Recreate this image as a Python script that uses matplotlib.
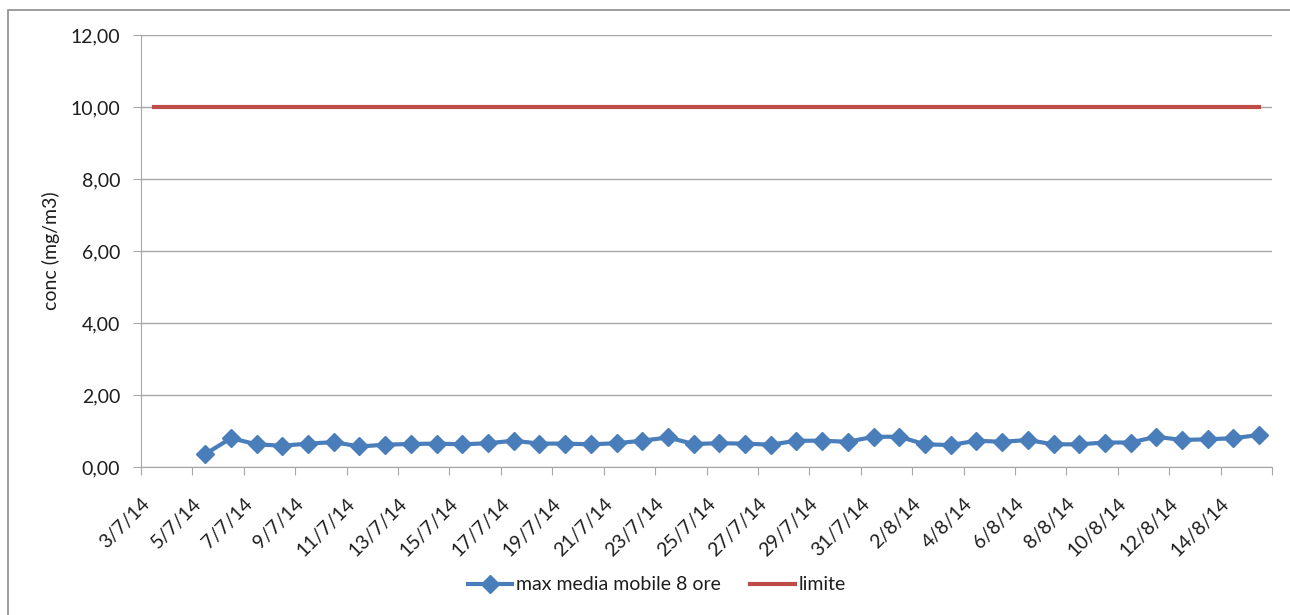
import datetime as dt

import matplotlib
matplotlib.use("Agg")
import matplotlib.pyplot as plt
import matplotlib.transforms as mtransforms
from matplotlib.patches import Rectangle

# daily categories 3/7/14 .. 15/8/14
start = dt.date(2014, 7, 3)
days = [start + dt.timedelta(days=i) for i in range(44)]
day_labels = ["%d/%d/%d" % (d.day, d.month, d.year % 100) for d in days]

# series starts on 5/7/14
media_mobile = [0.36, 0.80, 0.63, 0.59, 0.65, 0.69, 0.57, 0.62, 0.64, 0.65,
                0.63, 0.66, 0.73, 0.65, 0.65, 0.63, 0.66, 0.73, 0.82, 0.64,
                0.66, 0.65, 0.62, 0.73, 0.73, 0.70, 0.84,
                0.84, 0.63, 0.61, 0.73, 0.70, 0.75, 0.63, 0.63, 0.68, 0.68,
                0.84, 0.75, 0.77, 0.80, 0.89]
limite = [10.0] * len(days)
y_ticks = [0, 2, 4, 6, 8, 10, 12]

blue = "#4a7ebb"
red = "#be4b48"
grey = "#a6a6a6"
text_col = "#1e1e1e"

plt.rcParams['font.family'] = ['Lato', 'DejaVu Sans']

fig = plt.figure(figsize=(12.9, 6.15), dpi=100)
ax = fig.add_axes([141 / 1290, 1 - 467 / 615, (1272 - 141) / 1290, (467 - 35) / 615])

# chart area border (only left and top visible in the crop)
fig.patches.append(Rectangle((8 / 1290, -0.1), 1.2, 0.1 + 605 / 615,
                             transform=fig.transFigure, fill=False,
                             edgecolor="#8c8c8c", linewidth=1.2))

x_all = list(range(len(days)))
x_blue = x_all[2:]

ax.plot(x_blue, media_mobile, color=blue, linewidth=3, marker="D",
        markersize=9.5, label="max media mobile 8 ore", zorder=3)
ax.plot(x_all, limite, color=red, linewidth=3, label="limite", zorder=3)

ax.set_xlim(-0.5, len(days) - 0.5)
ax.set_ylim(0, 12)
ax.set_yticks(y_ticks)
ax.set_yticklabels(["%d,00" % v for v in y_ticks])
ax.yaxis.grid(True, color=grey, linewidth=1)
ax.set_axisbelow(True)

tick_pos = [i - 0.5 for i in range(0, len(days) + 1, 2)]
ax.set_xticks(tick_pos)
ax.set_xticklabels([day_labels[i] if i < len(days) else "" for i in range(0, len(days) + 1, 2)],
                   rotation=45, ha="right", va="top", rotation_mode="anchor")
shift = mtransforms.ScaledTranslation(16 / 100, 0, fig.dpi_scale_trans)
for lab in ax.get_xticklabels():
    lab.set_transform(lab.get_transform() + shift)

for s in ["top", "right"]:
    ax.spines[s].set_visible(False)
for s in ["left", "bottom"]:
    ax.spines[s].set_color(grey)
ax.tick_params(axis="both", colors=grey, labelcolor=text_col, labelsize=14,
               length=6, direction="out")
ax.tick_params(axis="x", pad=14)
ax.tick_params(axis="y", pad=9)

ax.set_ylabel("conc (mg/m3)", fontsize=14, color=text_col)
ax.yaxis.set_label_coords(-0.072, 0.5)

ax.legend(loc="center", bbox_to_anchor=(657 / 1290, 1 - 585 / 615),
          bbox_transform=fig.transFigure, ncol=2, frameon=False,
          fontsize=14, handlelength=2.3, columnspacing=1.5, handletextpad=0.2,
          labelcolor=text_col)

fig.savefig("out.png", dpi=100)
